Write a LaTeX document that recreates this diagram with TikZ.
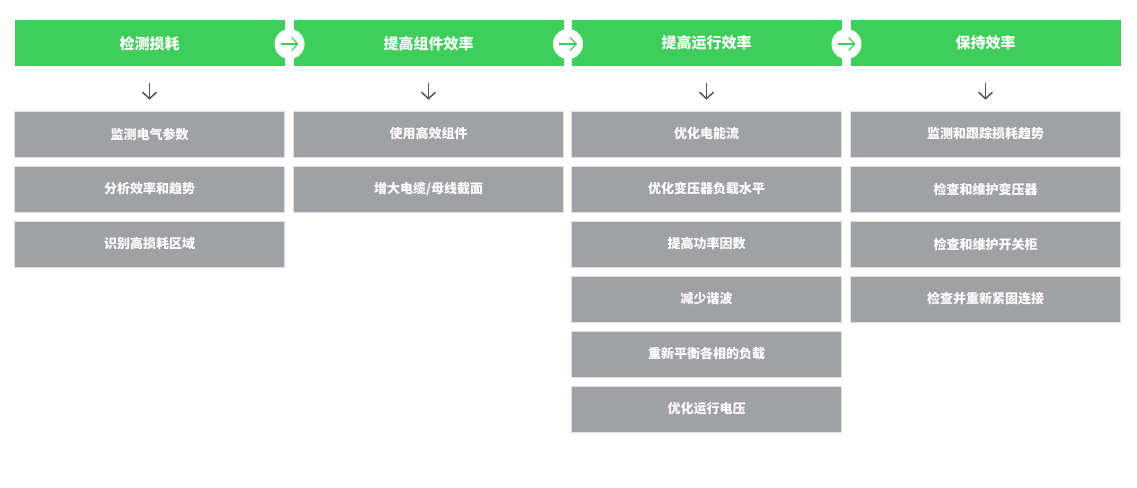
\documentclass[tikz,border=0pt]{standalone}
\usepackage{fontspec}
\newfontfamily\cjk{Noto Sans CJK SC}
\usetikzlibrary{arrows.meta}
\definecolor{hgreen}{HTML}{3ECF5A}
\definecolor{bgray}{HTML}{A0A1A5}
\definecolor{agray}{HTML}{55575C}
\tikzset{
  header/.style={fill=hgreen, minimum width=270pt, minimum height=46pt, inner sep=0pt,
    text=white, font=\cjk\bfseries\fontsize{15pt}{17pt}\selectfont},
  itembox/.style={fill=bgray, draw=black!12, line width=0.6pt, minimum width=270pt, minimum height=46pt, inner sep=0pt,
    text=white, font=\cjk\bfseries\fontsize{13pt}{15pt}\selectfont},
  stepcircle/.style={circle, fill=white, minimum size=30pt, inner sep=0pt},
  circarrow/.style={draw=hgreen, line width=1.2pt, -{Straight Barb[length=6pt,width=13pt,line width=1.2pt]}},
  downarrow/.style={draw=agray, line width=1.5pt, -{Straight Barb[length=6.5pt,width=14pt,line width=1.5pt]}}
}
\begin{document}
\begin{tikzpicture}[x=1pt,y=1pt]
\useasboundingbox[fill=white] (0,0) rectangle (1137,-487);
% headers
\node[header] (h1) at (149.5,-43.3) {检测损耗};
\node[header] (h2) at (428.5,-43.3) {提高组件效率};
\node[header] (h3) at (706.5,-43.3) {提高运行效率};
\node[header] (h4) at (985.5,-43.3) {保持效率};
% step circles
\node[stepcircle] (c1) at (289.5,-44) {};
\node[stepcircle] (c2) at (568,-44) {};
\node[stepcircle] (c3) at (846.5,-44) {};
\foreach \c in {c1,c2,c3}{
  \draw[circarrow] ([xshift=-9pt]\c.center) -- ([xshift=9pt]\c.center);
}
% column 1
\node[itembox] (a1) at (149.5,-134) {监测电气参数};
\node[itembox] (a2) at (149.5,-189) {分析效率和趋势};
\node[itembox] (a3) at (149.5,-244) {识别高损耗区域};
% column 2
\node[itembox] (b1) at (428.5,-134) {使用高效组件};
\node[itembox] (b2) at (428.5,-189) {增大电缆/母线截面};
% column 3
\node[itembox] (d1) at (706.5,-134) {优化电能流};
\node[itembox] (d2) at (706.5,-189) {优化变压器负载水平};
\node[itembox] (d3) at (706.5,-244) {提高功率因数};
\node[itembox] (d4) at (706.5,-299) {减少谐波};
\node[itembox] (d5) at (706.5,-354) {重新平衡各相的负载};
\node[itembox] (d6) at (706.5,-409) {优化运行电压};
% column 4
\node[itembox] (e1) at (985.5,-134) {监测和跟踪损耗趋势};
\node[itembox] (e2) at (985.5,-189) {检查和维护变压器};
\node[itembox] (e3) at (985.5,-244) {检查和维护开关柜};
\node[itembox] (e4) at (985.5,-299) {检查并重新紧固连接};
% down arrows
\draw[downarrow] ([yshift=-16pt]h1.south) -- ([yshift=11pt]a1.north);
\draw[downarrow] ([yshift=-16pt]h2.south) -- ([yshift=11pt]b1.north);
\draw[downarrow] ([yshift=-16pt]h3.south) -- ([yshift=11pt]d1.north);
\draw[downarrow] ([yshift=-16pt]h4.south) -- ([yshift=11pt]e1.north);
\end{tikzpicture}
\end{document}
